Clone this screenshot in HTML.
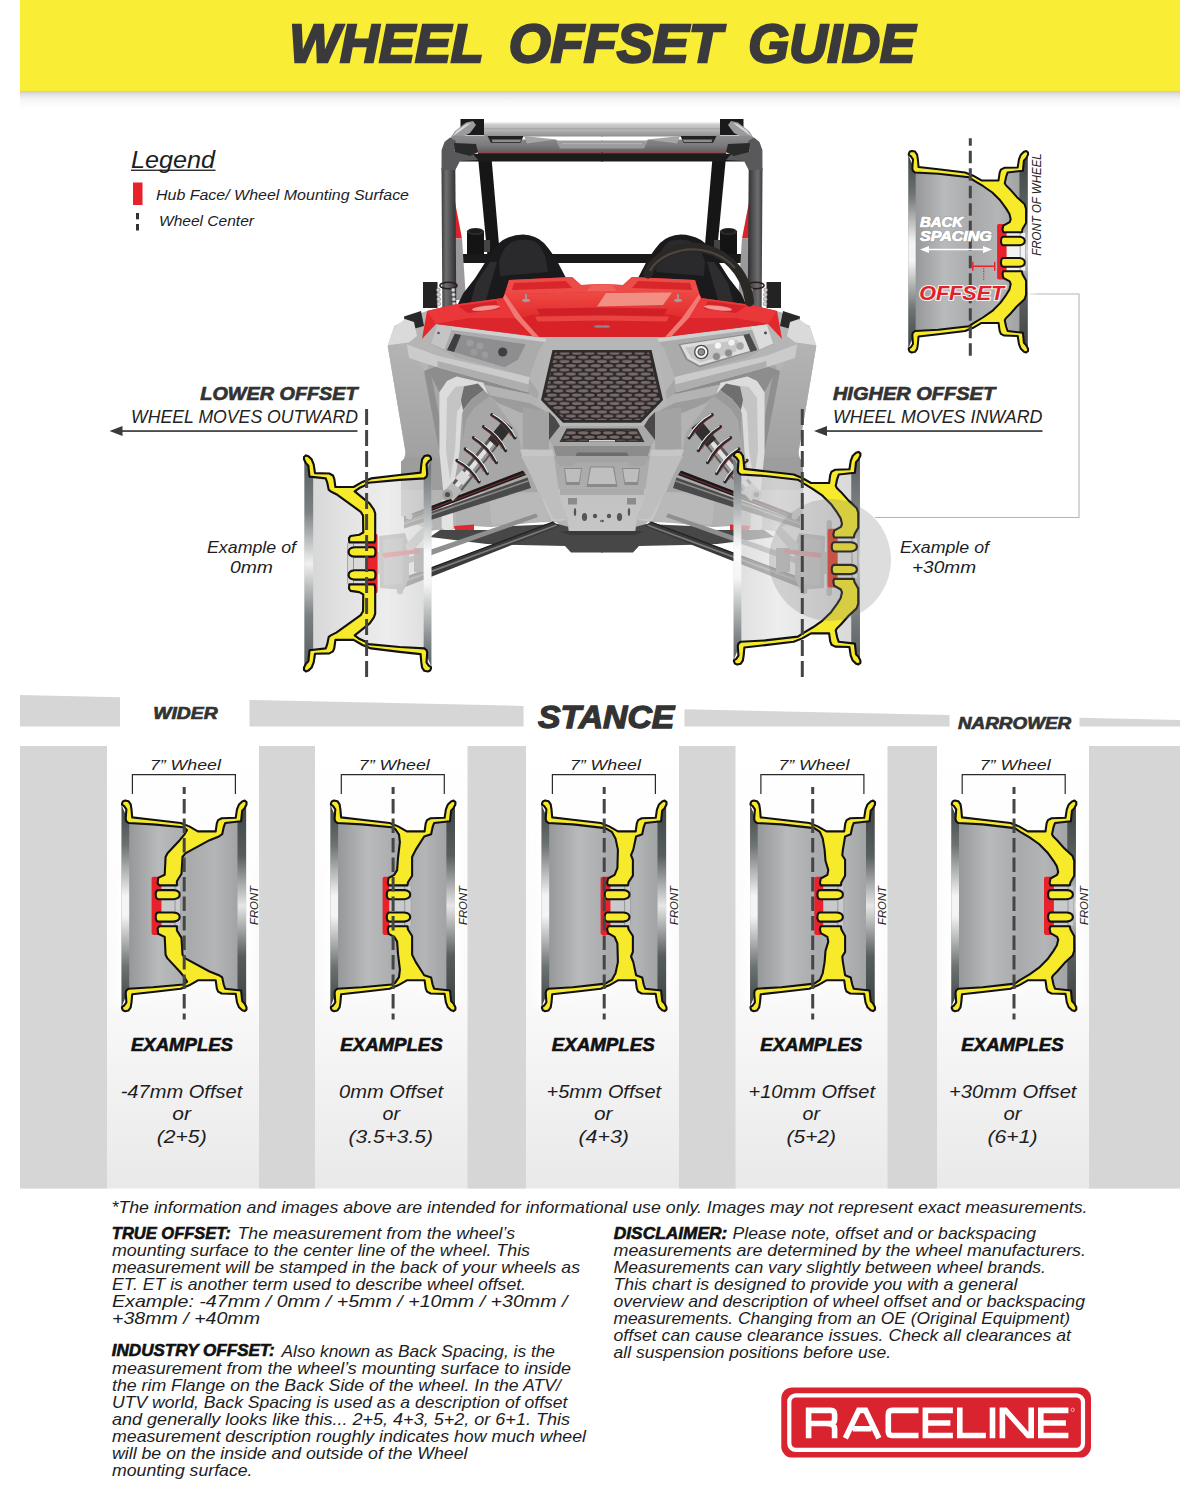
<!DOCTYPE html>
<html><head><meta charset="utf-8"><title>Wheel Offset Guide</title>
<style>
html,body{margin:0;padding:0;background:#fff;}
svg{display:block;font-family:"Liberation Sans",sans-serif;}
</style></head><body>
<svg width="1200" height="1500" viewBox="0 0 1200 1500">
<defs>
<linearGradient id="bshadow" x1="0" y1="0" x2="0" y2="1">
 <stop offset="0" stop-color="#000" stop-opacity="0.21"/>
 <stop offset="0.22" stop-color="#000" stop-opacity="0.10"/>
 <stop offset="0.5" stop-color="#000" stop-opacity="0.035"/>
 <stop offset="1" stop-color="#000" stop-opacity="0"/>
</linearGradient>
<linearGradient id="panel" x1="0" y1="0" x2="0" y2="1">
 <stop offset="0" stop-color="#ffffff"/>
 <stop offset="0.55" stop-color="#fafafa"/>
 <stop offset="1" stop-color="#e9e9e9"/>
</linearGradient>

<linearGradient id="barrel" x1="0" y1="0" x2="1" y2="0">
 <stop offset="0" stop-color="#8d8f91"/><stop offset="0.07" stop-color="#97999b"/>
 <stop offset="0.30" stop-color="#b9babc"/><stop offset="0.55" stop-color="#a9aaac"/>
 <stop offset="0.75" stop-color="#b4b5b7"/><stop offset="0.93" stop-color="#a2a3a5"/>
 <stop offset="1" stop-color="#8a8c8e"/>
</linearGradient>
<linearGradient id="lipL" x1="0" y1="0" x2="0" y2="1">
 <stop offset="0" stop-color="#3f4445"/><stop offset="0.2" stop-color="#6d7273"/>
 <stop offset="0.45" stop-color="#f4f4f4"/><stop offset="0.55" stop-color="#f4f4f4"/>
 <stop offset="0.8" stop-color="#6d7273"/><stop offset="1" stop-color="#3f4445"/>
</linearGradient>
<linearGradient id="lipR" x1="0" y1="0" x2="0" y2="1">
 <stop offset="0" stop-color="#3f4445"/><stop offset="0.25" stop-color="#585d5e"/>
 <stop offset="0.5" stop-color="#e6e6e6"/>
 <stop offset="0.75" stop-color="#585d5e"/><stop offset="1" stop-color="#3f4445"/>
</linearGradient>
<linearGradient id="lipfade" x1="0" y1="0" x2="1" y2="0">
 <stop offset="0" stop-color="#fff" stop-opacity="1"/><stop offset="1" stop-color="#fff" stop-opacity="0"/>
</linearGradient>
<filter id="glow" x="-30%" y="-20%" width="160%" height="140%"><feGaussianBlur stdDeviation="5"/></filter>
<filter id="soft" x="-10%" y="-10%" width="120%" height="120%"><feGaussianBlur stdDeviation="0.6"/></filter>

<linearGradient id="barrelT" x1="0" y1="0" x2="1" y2="0">
 <stop offset="0" stop-color="#cfcfd0"/><stop offset="0.35" stop-color="#e6e6e6"/>
 <stop offset="0.7" stop-color="#d6d6d7"/><stop offset="1" stop-color="#c4c4c5"/>
</linearGradient>

<linearGradient id="lipLT" x1="0" y1="0" x2="0" y2="1">
 <stop offset="0" stop-color="#6a7071"/><stop offset="0.2" stop-color="#9aa0a1"/>
 <stop offset="0.45" stop-color="#fbfbfb"/><stop offset="0.6" stop-color="#f4f4f4"/>
 <stop offset="0.85" stop-color="#8d9394"/><stop offset="1" stop-color="#5a6061"/>
</linearGradient>
<linearGradient id="lipRT" x1="0" y1="0" x2="0" y2="1">
 <stop offset="0" stop-color="#5a6061"/><stop offset="0.25" stop-color="#7b8182"/>
 <stop offset="0.5" stop-color="#f0f0f0"/>
 <stop offset="0.75" stop-color="#7b8182"/><stop offset="1" stop-color="#5a6061"/>
</linearGradient>

<linearGradient id="pillar" x1="0" y1="0" x2="1" y2="0">
 <stop offset="0" stop-color="#3c3c3e"/><stop offset="0.3" stop-color="#6e6e70"/>
 <stop offset="0.55" stop-color="#58585a"/><stop offset="1" stop-color="#2e2e30"/>
</linearGradient>
<linearGradient id="roof" x1="0" y1="0" x2="0" y2="1">
 <stop offset="0" stop-color="#f2f2f2"/><stop offset="0.25" stop-color="#c9c9c9"/>
 <stop offset="0.6" stop-color="#b2b2b2"/><stop offset="1" stop-color="#8e8e8e"/>
</linearGradient>
<linearGradient id="header" x1="0" y1="0" x2="0" y2="1">
 <stop offset="0" stop-color="#8e8e90"/><stop offset="0.6" stop-color="#7a7a7c"/><stop offset="1" stop-color="#5e5e60"/>
</linearGradient>
<linearGradient id="fender" x1="0" y1="0" x2="0" y2="1">
 <stop offset="0" stop-color="#b4b4b5"/><stop offset="1" stop-color="#9b9b9c"/>
</linearGradient>
<linearGradient id="hoodtop" x1="0" y1="0" x2="0" y2="1">
 <stop offset="0" stop-color="#ee4a45"/><stop offset="1" stop-color="#e22a2c"/>
</linearGradient>
<linearGradient id="skid" x1="0" y1="0" x2="0" y2="1">
 <stop offset="0" stop-color="#a9a9aa"/><stop offset="0.42" stop-color="#adadae"/><stop offset="0.45" stop-color="#c2c2c3"/><stop offset="1" stop-color="#c6c6c7"/>
</linearGradient>
<pattern id="mesh" width="12.5" height="8.4" patternUnits="userSpaceOnUse" x="548.9" y="351">
 <rect width="12.5" height="8.4" fill="#2b2727"/>
 <ellipse cx="3.1" cy="2.1" rx="5.2" ry="1.55" fill="#786b6b"/>
 <ellipse cx="9.35" cy="6.3" rx="5.2" ry="1.55" fill="#786b6b"/>
 <ellipse cx="15.6" cy="2.1" rx="5.2" ry="1.55" fill="#786b6b"/>
 <ellipse cx="-3.15" cy="6.3" rx="5.2" ry="1.55" fill="#786b6b"/>
</pattern>
<g id="wt_p0">
<polygon points="0.2,60.1 5.6,75.6 31.4,76.9 60.3,80.3 72.4,86.3 94.8,88.9 99.0,76.5 119.1,74.7 124.7,60.5 124.7,261.2 119.1,247.0 99.0,245.1 94.8,232.8 72.4,235.4 60.3,241.4 31.4,244.8 5.6,246.1 0.2,261.6" fill="url(#barrelT)" opacity="0.72"/>
<g>
<polygon points="0.2,60.1 7.8,78.0 7.8,243.7 0.2,261.6" fill="url(#lipLT)"/>
<polygon points="124.7,60.5 116.1,75.6 116.1,246.1 124.7,261.2" fill="url(#lipRT)"/>
</g>
<rect x="53.0" y="131.8" width="9.7" height="58.1" rx="1.8" fill="#e8212b"/>
<rect x="62.4" y="141.2" width="20.2" height="39.4" fill="#d9d9da"/>
<rect x="76.1" y="141.2" width="0.9" height="39.4" fill="#8e9092"/>
<rect x="81.9" y="141.2" width="0.9" height="39.4" fill="#9fa1a3"/>
<polygon points="0.6,58.6 1.5,56.4 3.7,55.5 7.1,56.2 9.3,59.4 10.1,64.4 10.8,72.4 31.4,74.7 59.4,78.0 67.8,81.4 76.5,86.4 94.3,86.4 95.4,78.4 96.7,75.1 100.3,73.2 114.3,72.8 115.6,64.4 117.6,59.4 120.8,56.4 123.2,55.6 125.1,57.1 125.1,59.4 123.2,63.1 120.8,65.7 119.7,76.2 103.8,78.0 102.3,82.2 100.8,89.2 98.8,90.7 93.4,93.4 69.5,110.5 67.2,114.3 67.0,130.7 70.9,132.9 79.4,134.1 81.0,136.3 80.7,140.4 56.0,140.4 55.3,137.2 55.3,112.0 56.6,108.3 60.7,102.5 75.4,90.7 70.9,87.4 65.7,85.0 62.0,82.2 31.4,79.4 7.1,78.0 4.9,76.2 4.3,73.7 5.0,64.4 2.8,61.2 0.6,59.7" fill="#f7ea2a" stroke="#111" stroke-width="2.1" stroke-linejoin="round"/>
<polygon points="0.6,263.1 1.5,265.3 3.7,266.2 7.1,265.5 9.3,262.3 10.1,257.3 10.8,249.3 31.4,247.0 59.4,243.7 67.8,240.3 76.5,235.3 94.3,235.3 95.4,243.3 96.7,246.6 100.3,248.5 114.3,248.9 115.6,257.3 117.6,262.3 120.8,265.3 123.2,266.1 125.1,264.6 125.1,262.3 123.2,258.6 120.8,256.0 119.7,245.5 103.8,243.7 102.3,239.5 100.8,232.4 98.8,231.0 93.4,228.3 69.5,211.2 67.2,207.4 67.0,191.0 70.9,188.8 79.4,187.6 81.0,185.4 80.7,181.3 56.0,181.3 55.3,184.5 55.3,209.7 56.6,213.4 60.7,219.2 75.4,231.0 70.9,234.3 65.7,236.7 62.0,239.5 31.4,242.3 7.1,243.7 4.9,245.5 4.3,247.9 5.0,257.3 2.8,260.5 0.6,261.9" fill="#f7ea2a" stroke="#111" stroke-width="2.1" stroke-linejoin="round"/>
<path d="M57.8,145.1 L75.4,145.1 Q81.4,145.6 81.4,149.6 Q81.4,153.7 75.4,154.2 L57.8,154.2 Q55.0,154.2 55.0,149.6 Q55.0,145.1 57.8,145.1 Z" fill="#f7ea2a" stroke="#111" stroke-width="2.1" stroke-linejoin="round"/>
<path d="M57.8,167.5 L75.4,167.5 Q81.4,168.0 81.4,172.1 Q81.4,176.1 75.4,176.6 L57.8,176.6 Q55.0,176.6 55.0,172.1 Q55.0,167.5 57.8,167.5 Z" fill="#f7ea2a" stroke="#111" stroke-width="2.1" stroke-linejoin="round"/>
</g><g id="wt_p30">
<polygon points="0.2,60.1 5.6,75.6 31.4,76.9 60.3,80.3 72.4,86.3 94.8,88.9 99.0,76.5 119.1,74.7 124.7,60.5 124.7,261.2 119.1,247.0 99.0,245.1 94.8,232.8 72.4,235.4 60.3,241.4 31.4,244.8 5.6,246.1 0.2,261.6" fill="url(#barrelT)" opacity="0.7"/>
<g>
<polygon points="0.2,60.1 7.8,78.0 7.8,243.7 0.2,261.6" fill="url(#lipLT)"/>
<polygon points="124.7,60.5 116.1,75.6 116.1,246.1 124.7,261.2" fill="url(#lipRT)"/>
</g>
<rect x="92.8" y="131.8" width="10.3" height="58.1" rx="1.8" fill="#e2432f"/>
<rect x="102.7" y="141.2" width="20.2" height="39.4" fill="#e3e3e4"/>
<rect x="116.4" y="141.2" width="0.9" height="39.4" fill="#8e9092"/>
<rect x="122.2" y="141.2" width="0.9" height="39.4" fill="#9fa1a3"/>
<polygon points="0.6,58.6 1.5,56.4 3.7,55.5 7.1,56.2 9.3,59.4 10.1,64.4 10.8,72.4 31.4,74.7 59.4,78.0 67.8,81.4 76.5,86.4 94.3,86.4 95.4,78.4 96.7,75.1 100.3,73.2 114.3,72.8 115.6,64.4 117.6,59.4 120.8,56.4 123.2,55.6 125.1,57.1 125.1,59.4 123.2,63.1 120.8,65.7 119.7,76.2 103.8,78.0 102.3,82.2 100.8,89.2 102.1,91.5 105.9,95.2 113.3,103.6 121.4,111.1 123.0,115.8 123.0,130.7 119.3,137.2 118.6,140.4 99.3,140.4 98.4,137.8 99.3,133.5 105.9,129.8 107.0,127.0 105.7,121.4 102.3,115.8 96.2,107.4 87.8,99.0 78.4,92.4 69.1,86.8 63.5,83.1 31.4,79.4 7.1,78.0 4.9,76.2 4.3,73.7 5.0,64.4 2.8,61.2 0.6,59.7" fill="#f7ea2a" stroke="#111" stroke-width="2.1" stroke-linejoin="round"/>
<polygon points="0.6,263.1 1.5,265.3 3.7,266.2 7.1,265.5 9.3,262.3 10.1,257.3 10.8,249.3 31.4,247.0 59.4,243.7 67.8,240.3 76.5,235.3 94.3,235.3 95.4,243.3 96.7,246.6 100.3,248.5 114.3,248.9 115.6,257.3 117.6,262.3 120.8,265.3 123.2,266.1 125.1,264.6 125.1,262.3 123.2,258.6 120.8,256.0 119.7,245.5 103.8,243.7 102.3,239.5 100.8,232.4 102.1,230.2 105.9,226.5 113.3,218.1 121.4,210.6 123.0,205.9 123.0,191.0 119.3,184.5 118.6,181.3 99.3,181.3 98.4,183.9 99.3,188.2 105.9,191.9 107.0,194.7 105.7,200.3 102.3,205.9 96.2,214.3 87.8,222.7 78.4,229.3 69.1,234.9 63.5,238.6 31.4,242.3 7.1,243.7 4.9,245.5 4.3,247.9 5.0,257.3 2.8,260.5 0.6,261.9" fill="#f7ea2a" stroke="#111" stroke-width="2.1" stroke-linejoin="round"/>
<path d="M99.7,145.1 L115.7,145.1 Q121.7,145.6 121.7,149.6 Q121.7,153.7 115.7,154.2 L99.7,154.2 Q96.9,154.2 96.9,149.6 Q96.9,145.1 99.7,145.1 Z" fill="#f7ea2a" stroke="#111" stroke-width="2.1" stroke-linejoin="round"/>
<path d="M99.7,167.5 L115.7,167.5 Q121.7,168.0 121.7,172.1 Q121.7,176.1 115.7,176.6 L99.7,176.6 Q96.9,176.6 96.9,172.1 Q96.9,167.5 99.7,167.5 Z" fill="#f7ea2a" stroke="#111" stroke-width="2.1" stroke-linejoin="round"/>
</g><g id="wl_p30">
<polygon points="0.2,60.1 5.6,75.6 31.4,76.9 60.3,80.3 72.4,86.3 94.8,88.9 99.0,76.5 119.1,74.7 124.7,60.5 124.7,261.2 119.1,247.0 99.0,245.1 94.8,232.8 72.4,235.4 60.3,241.4 31.4,244.8 5.6,246.1 0.2,261.6" fill="#fff" stroke="#fff" stroke-width="10" filter="url(#glow)" opacity="0.95"/>
<polygon points="0.2,60.1 5.6,75.6 31.4,76.9 60.3,80.3 72.4,86.3 94.8,88.9 99.0,76.5 119.1,74.7 124.7,60.5 124.7,261.2 119.1,247.0 99.0,245.1 94.8,232.8 72.4,235.4 60.3,241.4 31.4,244.8 5.6,246.1 0.2,261.6" fill="url(#barrel)" opacity="1.0"/>
<g>
<polygon points="0.2,60.1 7.8,78.0 7.8,243.7 0.2,261.6" fill="url(#lipL)"/>
<polygon points="124.7,60.5 116.1,75.6 116.1,246.1 124.7,261.2" fill="url(#lipR)"/>
</g>
<rect x="92.8" y="131.8" width="10.3" height="58.1" rx="1.8" fill="#e8212b"/>
<rect x="102.7" y="141.2" width="20.2" height="39.4" fill="#f2f2f2"/>
<rect x="116.4" y="141.2" width="0.9" height="39.4" fill="#8e9092"/>
<rect x="122.2" y="141.2" width="0.9" height="39.4" fill="#9fa1a3"/>
<polygon points="0.6,58.6 1.5,56.4 3.7,55.5 7.1,56.2 9.3,59.4 10.1,64.4 10.8,72.4 31.4,74.7 59.4,78.0 67.8,81.4 76.5,86.4 94.3,86.4 95.4,78.4 96.7,75.1 100.3,73.2 114.3,72.8 115.6,64.4 117.6,59.4 120.8,56.4 123.2,55.6 125.1,57.1 125.1,59.4 123.2,63.1 120.8,65.7 119.7,76.2 103.8,78.0 102.3,82.2 100.8,89.2 102.1,91.5 105.9,95.2 113.3,103.6 121.4,111.1 123.0,115.8 123.0,130.7 119.3,137.2 118.6,140.4 99.3,140.4 98.4,137.8 99.3,133.5 105.9,129.8 107.0,127.0 105.7,121.4 102.3,115.8 96.2,107.4 87.8,99.0 78.4,92.4 69.1,86.8 63.5,83.1 31.4,79.4 7.1,78.0 4.9,76.2 4.3,73.7 5.0,64.4 2.8,61.2 0.6,59.7" fill="#f7ea2a" stroke="#111" stroke-width="2.1" stroke-linejoin="round"/>
<polygon points="0.6,263.1 1.5,265.3 3.7,266.2 7.1,265.5 9.3,262.3 10.1,257.3 10.8,249.3 31.4,247.0 59.4,243.7 67.8,240.3 76.5,235.3 94.3,235.3 95.4,243.3 96.7,246.6 100.3,248.5 114.3,248.9 115.6,257.3 117.6,262.3 120.8,265.3 123.2,266.1 125.1,264.6 125.1,262.3 123.2,258.6 120.8,256.0 119.7,245.5 103.8,243.7 102.3,239.5 100.8,232.4 102.1,230.2 105.9,226.5 113.3,218.1 121.4,210.6 123.0,205.9 123.0,191.0 119.3,184.5 118.6,181.3 99.3,181.3 98.4,183.9 99.3,188.2 105.9,191.9 107.0,194.7 105.7,200.3 102.3,205.9 96.2,214.3 87.8,222.7 78.4,229.3 69.1,234.9 63.5,238.6 31.4,242.3 7.1,243.7 4.9,245.5 4.3,247.9 5.0,257.3 2.8,260.5 0.6,261.9" fill="#f7ea2a" stroke="#111" stroke-width="2.1" stroke-linejoin="round"/>
<path d="M99.7,145.1 L115.7,145.1 Q121.7,145.6 121.7,149.6 Q121.7,153.7 115.7,154.2 L99.7,154.2 Q96.9,154.2 96.9,149.6 Q96.9,145.1 99.7,145.1 Z" fill="#f7ea2a" stroke="#111" stroke-width="2.1" stroke-linejoin="round"/>
<path d="M99.7,167.5 L115.7,167.5 Q121.7,168.0 121.7,172.1 Q121.7,176.1 115.7,176.6 L99.7,176.6 Q96.9,176.6 96.9,172.1 Q96.9,167.5 99.7,167.5 Z" fill="#f7ea2a" stroke="#111" stroke-width="2.1" stroke-linejoin="round"/>
</g><g id="w_m47">
<polygon points="0.2,60.1 5.6,75.6 31.4,76.9 60.3,80.3 72.4,86.3 94.8,88.9 99.0,76.5 119.1,74.7 124.7,60.5 124.7,261.2 119.1,247.0 99.0,245.1 94.8,232.8 72.4,235.4 60.3,241.4 31.4,244.8 5.6,246.1 0.2,261.6" fill="#fff" stroke="#fff" stroke-width="10" filter="url(#glow)" opacity="0.95"/>
<polygon points="0.2,60.1 5.6,75.6 31.4,76.9 60.3,80.3 72.4,86.3 94.8,88.9 99.0,76.5 119.1,74.7 124.7,60.5 124.7,261.2 119.1,247.0 99.0,245.1 94.8,232.8 72.4,235.4 60.3,241.4 31.4,244.8 5.6,246.1 0.2,261.6" fill="url(#barrel)" opacity="1.0"/>
<g>
<polygon points="0.2,60.1 7.8,78.0 7.8,243.7 0.2,261.6" fill="url(#lipL)"/>
<polygon points="124.7,60.5 116.1,75.6 116.1,246.1 124.7,261.2" fill="url(#lipR)"/>
</g>
<rect x="30.2" y="131.8" width="10.3" height="58.1" rx="1.8" fill="#e8212b"/>
<rect x="40.1" y="141.2" width="19.2" height="39.4" fill="#c9cacc"/>
<rect x="53.2" y="141.2" width="0.9" height="39.4" fill="#8e9092"/>
<rect x="58.8" y="141.2" width="0.9" height="39.4" fill="#9fa1a3"/>
<polygon points="0.6,58.6 1.5,56.4 3.7,55.5 7.1,56.2 9.3,59.4 10.1,64.4 10.8,72.4 31.4,74.7 59.4,78.0 67.8,81.4 76.5,86.4 94.3,86.4 95.4,78.4 96.7,75.1 100.3,73.2 114.3,72.8 115.6,64.4 117.6,59.4 120.8,56.4 123.2,55.6 125.1,57.1 125.1,59.4 123.2,63.1 120.8,65.7 119.7,76.2 103.8,78.0 102.3,82.2 100.8,89.2 97.5,91.5 88.1,95.2 63.9,108.3 61.1,112.0 60.1,128.8 55.5,136.3 55.5,140.4 37.7,140.4 36.2,138.2 36.8,132.9 43.3,129.8 44.2,112.0 46.1,108.3 58.3,95.2 62.9,89.6 65.7,85.0 62.0,82.2 31.4,79.4 7.1,78.0 4.9,76.2 4.3,73.7 5.0,64.4 2.8,61.2 0.6,59.7" fill="#f7ea2a" stroke="#111" stroke-width="2.1" stroke-linejoin="round"/>
<polygon points="0.6,263.1 1.5,265.3 3.7,266.2 7.1,265.5 9.3,262.3 10.1,257.3 10.8,249.3 31.4,247.0 59.4,243.7 67.8,240.3 76.5,235.3 94.3,235.3 95.4,243.3 96.7,246.6 100.3,248.5 114.3,248.9 115.6,257.3 117.6,262.3 120.8,265.3 123.2,266.1 125.1,264.6 125.1,262.3 123.2,258.6 120.8,256.0 119.7,245.5 103.8,243.7 102.3,239.5 100.8,232.4 97.5,230.2 88.1,226.5 63.9,213.4 61.1,209.7 60.1,192.9 55.5,185.4 55.5,181.3 37.7,181.3 36.2,183.5 36.8,188.8 43.3,191.9 44.2,209.7 46.1,213.4 58.3,226.5 62.9,232.1 65.7,236.7 62.0,239.5 31.4,242.3 7.1,243.7 4.9,245.5 4.3,247.9 5.0,257.3 2.8,260.5 0.6,261.9" fill="#f7ea2a" stroke="#111" stroke-width="2.1" stroke-linejoin="round"/>
<path d="M37.1,145.1 L52.3,145.1 Q58.3,145.6 58.3,149.6 Q58.3,153.7 52.3,154.2 L37.1,154.2 Q34.3,154.2 34.3,149.6 Q34.3,145.1 37.1,145.1 Z" fill="#f7ea2a" stroke="#111" stroke-width="2.1" stroke-linejoin="round"/>
<path d="M37.1,167.5 L52.3,167.5 Q58.3,168.0 58.3,172.1 Q58.3,176.1 52.3,176.6 L37.1,176.6 Q34.3,176.6 34.3,172.1 Q34.3,167.5 37.1,167.5 Z" fill="#f7ea2a" stroke="#111" stroke-width="2.1" stroke-linejoin="round"/>
</g><g id="w_p0">
<polygon points="0.2,60.1 5.6,75.6 31.4,76.9 60.3,80.3 72.4,86.3 94.8,88.9 99.0,76.5 119.1,74.7 124.7,60.5 124.7,261.2 119.1,247.0 99.0,245.1 94.8,232.8 72.4,235.4 60.3,241.4 31.4,244.8 5.6,246.1 0.2,261.6" fill="#fff" stroke="#fff" stroke-width="10" filter="url(#glow)" opacity="0.95"/>
<polygon points="0.2,60.1 5.6,75.6 31.4,76.9 60.3,80.3 72.4,86.3 94.8,88.9 99.0,76.5 119.1,74.7 124.7,60.5 124.7,261.2 119.1,247.0 99.0,245.1 94.8,232.8 72.4,235.4 60.3,241.4 31.4,244.8 5.6,246.1 0.2,261.6" fill="url(#barrel)" opacity="1.0"/>
<g>
<polygon points="0.2,60.1 7.8,78.0 7.8,243.7 0.2,261.6" fill="url(#lipL)"/>
<polygon points="124.7,60.5 116.1,75.6 116.1,246.1 124.7,261.2" fill="url(#lipR)"/>
</g>
<rect x="52.3" y="131.8" width="7.1" height="58.1" rx="1.8" fill="#e8212b"/>
<rect x="59.0" y="141.2" width="22.0" height="39.4" fill="#c9cacc"/>
<rect x="74.0" y="141.2" width="0.9" height="39.4" fill="#8e9092"/>
<rect x="80.4" y="141.2" width="0.9" height="39.4" fill="#9fa1a3"/>
<polygon points="0.6,58.6 1.5,56.4 3.7,55.5 7.1,56.2 9.3,59.4 10.1,64.4 10.8,72.4 31.4,74.7 59.4,78.0 67.8,81.4 76.5,86.4 94.3,86.4 95.4,78.4 96.7,75.1 100.3,73.2 114.3,72.8 115.6,64.4 117.6,59.4 120.8,56.4 123.2,55.6 125.1,57.1 125.1,59.4 123.2,63.1 120.8,65.7 119.7,76.2 103.8,78.0 102.3,82.2 100.8,89.2 93.9,91.5 85.5,104.6 81.8,112.0 81.8,130.7 77.7,137.2 77.1,140.4 58.4,140.4 57.5,137.2 58.4,132.9 64.0,129.8 66.8,125.1 67.8,112.0 69.6,97.1 68.7,89.6 65.0,84.0 61.2,82.2 31.4,79.4 7.1,78.0 4.9,76.2 4.3,73.7 5.0,64.4 2.8,61.2 0.6,59.7" fill="#f7ea2a" stroke="#111" stroke-width="2.1" stroke-linejoin="round"/>
<polygon points="0.6,263.1 1.5,265.3 3.7,266.2 7.1,265.5 9.3,262.3 10.1,257.3 10.8,249.3 31.4,247.0 59.4,243.7 67.8,240.3 76.5,235.3 94.3,235.3 95.4,243.3 96.7,246.6 100.3,248.5 114.3,248.9 115.6,257.3 117.6,262.3 120.8,265.3 123.2,266.1 125.1,264.6 125.1,262.3 123.2,258.6 120.8,256.0 119.7,245.5 103.8,243.7 102.3,239.5 100.8,232.4 93.9,230.2 85.5,217.1 81.8,209.7 81.8,191.0 77.7,184.5 77.1,181.3 58.4,181.3 57.5,184.5 58.4,188.8 64.0,191.9 66.8,196.6 67.8,209.7 69.6,224.6 68.7,232.1 65.0,237.7 61.2,239.5 31.4,242.3 7.1,243.7 4.9,245.5 4.3,247.9 5.0,257.3 2.8,260.5 0.6,261.9" fill="#f7ea2a" stroke="#111" stroke-width="2.1" stroke-linejoin="round"/>
<path d="M59.3,145.1 L73.9,145.1 Q79.9,145.6 79.9,149.6 Q79.9,153.7 73.9,154.2 L59.3,154.2 Q56.5,154.2 56.5,149.6 Q56.5,145.1 59.3,145.1 Z" fill="#f7ea2a" stroke="#111" stroke-width="2.1" stroke-linejoin="round"/>
<path d="M59.3,167.5 L73.9,167.5 Q79.9,168.0 79.9,172.1 Q79.9,176.1 73.9,176.6 L59.3,176.6 Q56.5,176.6 56.5,172.1 Q56.5,167.5 59.3,167.5 Z" fill="#f7ea2a" stroke="#111" stroke-width="2.1" stroke-linejoin="round"/>
</g><g id="w_p5">
<polygon points="0.2,60.1 5.6,75.6 31.4,76.9 60.3,80.3 72.4,86.3 94.8,88.9 99.0,76.5 119.1,74.7 124.7,60.5 124.7,261.2 119.1,247.0 99.0,245.1 94.8,232.8 72.4,235.4 60.3,241.4 31.4,244.8 5.6,246.1 0.2,261.6" fill="#fff" stroke="#fff" stroke-width="10" filter="url(#glow)" opacity="0.95"/>
<polygon points="0.2,60.1 5.6,75.6 31.4,76.9 60.3,80.3 72.4,86.3 94.8,88.9 99.0,76.5 119.1,74.7 124.7,60.5 124.7,261.2 119.1,247.0 99.0,245.1 94.8,232.8 72.4,235.4 60.3,241.4 31.4,244.8 5.6,246.1 0.2,261.6" fill="url(#barrel)" opacity="1.0"/>
<g>
<polygon points="0.2,60.1 7.8,78.0 7.8,243.7 0.2,261.6" fill="url(#lipL)"/>
<polygon points="124.7,60.5 116.1,75.6 116.1,246.1 124.7,261.2" fill="url(#lipR)"/>
</g>
<rect x="59.2" y="131.8" width="10.3" height="58.1" rx="1.8" fill="#e8212b"/>
<rect x="69.1" y="141.2" width="20.2" height="39.4" fill="#c9cacc"/>
<rect x="82.8" y="141.2" width="0.9" height="39.4" fill="#8e9092"/>
<rect x="88.6" y="141.2" width="0.9" height="39.4" fill="#9fa1a3"/>
<polygon points="0.6,58.6 1.5,56.4 3.7,55.5 7.1,56.2 9.3,59.4 10.1,64.4 10.8,72.4 31.4,74.7 59.4,78.0 67.8,81.4 76.5,86.4 94.3,86.4 95.4,78.4 96.7,75.1 100.3,73.2 114.3,72.8 115.6,64.4 117.6,59.4 120.8,56.4 123.2,55.6 125.1,57.1 125.1,59.4 123.2,63.1 120.8,65.7 119.7,76.2 103.8,78.0 102.3,82.2 100.8,89.2 94.7,91.5 91.9,104.6 89.6,110.2 91.5,114.8 91.5,130.7 87.2,137.2 86.6,140.4 66.7,140.4 65.7,137.8 66.7,133.5 73.2,129.8 76.0,123.2 76.5,104.6 74.1,93.4 70.4,86.8 63.9,83.1 31.4,79.4 7.1,78.0 4.9,76.2 4.3,73.7 5.0,64.4 2.8,61.2 0.6,59.7" fill="#f7ea2a" stroke="#111" stroke-width="2.1" stroke-linejoin="round"/>
<polygon points="0.6,263.1 1.5,265.3 3.7,266.2 7.1,265.5 9.3,262.3 10.1,257.3 10.8,249.3 31.4,247.0 59.4,243.7 67.8,240.3 76.5,235.3 94.3,235.3 95.4,243.3 96.7,246.6 100.3,248.5 114.3,248.9 115.6,257.3 117.6,262.3 120.8,265.3 123.2,266.1 125.1,264.6 125.1,262.3 123.2,258.6 120.8,256.0 119.7,245.5 103.8,243.7 102.3,239.5 100.8,232.4 94.7,230.2 91.9,217.1 89.6,211.5 91.5,206.9 91.5,191.0 87.2,184.5 86.6,181.3 66.7,181.3 65.7,183.9 66.7,188.2 73.2,191.9 76.0,198.5 76.5,217.1 74.1,228.3 70.4,234.9 63.9,238.6 31.4,242.3 7.1,243.7 4.9,245.5 4.3,247.9 5.0,257.3 2.8,260.5 0.6,261.9" fill="#f7ea2a" stroke="#111" stroke-width="2.1" stroke-linejoin="round"/>
<path d="M66.1,145.1 L82.1,145.1 Q88.1,145.6 88.1,149.6 Q88.1,153.7 82.1,154.2 L66.1,154.2 Q63.3,154.2 63.3,149.6 Q63.3,145.1 66.1,145.1 Z" fill="#f7ea2a" stroke="#111" stroke-width="2.1" stroke-linejoin="round"/>
<path d="M66.1,167.5 L82.1,167.5 Q88.1,168.0 88.1,172.1 Q88.1,176.1 82.1,176.6 L66.1,176.6 Q63.3,176.6 63.3,172.1 Q63.3,167.5 66.1,167.5 Z" fill="#f7ea2a" stroke="#111" stroke-width="2.1" stroke-linejoin="round"/>
</g><g id="w_p10">
<polygon points="0.2,60.1 5.6,75.6 31.4,76.9 60.3,80.3 72.4,86.3 94.8,88.9 99.0,76.5 119.1,74.7 124.7,60.5 124.7,261.2 119.1,247.0 99.0,245.1 94.8,232.8 72.4,235.4 60.3,241.4 31.4,244.8 5.6,246.1 0.2,261.6" fill="#fff" stroke="#fff" stroke-width="10" filter="url(#glow)" opacity="0.95"/>
<polygon points="0.2,60.1 5.6,75.6 31.4,76.9 60.3,80.3 72.4,86.3 94.8,88.9 99.0,76.5 119.1,74.7 124.7,60.5 124.7,261.2 119.1,247.0 99.0,245.1 94.8,232.8 72.4,235.4 60.3,241.4 31.4,244.8 5.6,246.1 0.2,261.6" fill="url(#barrel)" opacity="1.0"/>
<g>
<polygon points="0.2,60.1 7.8,78.0 7.8,243.7 0.2,261.6" fill="url(#lipL)"/>
<polygon points="124.7,60.5 116.1,75.6 116.1,246.1 124.7,261.2" fill="url(#lipR)"/>
</g>
<rect x="64.4" y="131.8" width="9.3" height="58.1" rx="1.8" fill="#e8212b"/>
<rect x="73.4" y="141.2" width="20.7" height="39.4" fill="#c9cacc"/>
<rect x="87.5" y="141.2" width="0.9" height="39.4" fill="#8e9092"/>
<rect x="93.5" y="141.2" width="0.9" height="39.4" fill="#9fa1a3"/>
<polygon points="0.6,58.6 1.5,56.4 3.7,55.5 7.1,56.2 9.3,59.4 10.1,64.4 10.8,72.4 31.4,74.7 59.4,78.0 67.8,81.4 76.5,86.4 94.3,86.4 95.4,78.4 96.7,75.1 100.3,73.2 114.3,72.8 115.6,64.4 117.6,59.4 120.8,56.4 123.2,55.6 125.1,57.1 125.1,59.4 123.2,63.1 120.8,65.7 119.7,76.2 103.8,78.0 102.3,82.2 100.8,89.2 95.2,91.5 93.0,104.6 92.4,110.2 95.2,114.8 95.2,130.7 91.5,137.2 90.9,140.4 70.9,140.4 70.0,137.8 70.9,133.5 77.5,129.8 78.4,125.1 75.6,115.8 74.7,104.6 72.8,93.4 70.0,86.8 64.4,83.1 31.4,79.4 7.1,78.0 4.9,76.2 4.3,73.7 5.0,64.4 2.8,61.2 0.6,59.7" fill="#f7ea2a" stroke="#111" stroke-width="2.1" stroke-linejoin="round"/>
<polygon points="0.6,263.1 1.5,265.3 3.7,266.2 7.1,265.5 9.3,262.3 10.1,257.3 10.8,249.3 31.4,247.0 59.4,243.7 67.8,240.3 76.5,235.3 94.3,235.3 95.4,243.3 96.7,246.6 100.3,248.5 114.3,248.9 115.6,257.3 117.6,262.3 120.8,265.3 123.2,266.1 125.1,264.6 125.1,262.3 123.2,258.6 120.8,256.0 119.7,245.5 103.8,243.7 102.3,239.5 100.8,232.4 95.2,230.2 93.0,217.1 92.4,211.5 95.2,206.9 95.2,191.0 91.5,184.5 90.9,181.3 70.9,181.3 70.0,183.9 70.9,188.2 77.5,191.9 78.4,196.6 75.6,205.9 74.7,217.1 72.8,228.3 70.0,234.9 64.4,238.6 31.4,242.3 7.1,243.7 4.9,245.5 4.3,247.9 5.0,257.3 2.8,260.5 0.6,261.9" fill="#f7ea2a" stroke="#111" stroke-width="2.1" stroke-linejoin="round"/>
<path d="M70.3,145.1 L87.0,145.1 Q93.0,145.6 93.0,149.6 Q93.0,153.7 87.0,154.2 L70.3,154.2 Q67.5,154.2 67.5,149.6 Q67.5,145.1 70.3,145.1 Z" fill="#f7ea2a" stroke="#111" stroke-width="2.1" stroke-linejoin="round"/>
<path d="M70.3,167.5 L87.0,167.5 Q93.0,168.0 93.0,172.1 Q93.0,176.1 87.0,176.6 L70.3,176.6 Q67.5,176.6 67.5,172.1 Q67.5,167.5 70.3,167.5 Z" fill="#f7ea2a" stroke="#111" stroke-width="2.1" stroke-linejoin="round"/>
</g><g id="w_p30">
<polygon points="0.2,60.1 5.6,75.6 31.4,76.9 60.3,80.3 72.4,86.3 94.8,88.9 99.0,76.5 119.1,74.7 124.7,60.5 124.7,261.2 119.1,247.0 99.0,245.1 94.8,232.8 72.4,235.4 60.3,241.4 31.4,244.8 5.6,246.1 0.2,261.6" fill="#fff" stroke="#fff" stroke-width="10" filter="url(#glow)" opacity="0.95"/>
<polygon points="0.2,60.1 5.6,75.6 31.4,76.9 60.3,80.3 72.4,86.3 94.8,88.9 99.0,76.5 119.1,74.7 124.7,60.5 124.7,261.2 119.1,247.0 99.0,245.1 94.8,232.8 72.4,235.4 60.3,241.4 31.4,244.8 5.6,246.1 0.2,261.6" fill="url(#barrel)" opacity="1.0"/>
<g>
<polygon points="0.2,60.1 7.8,78.0 7.8,243.7 0.2,261.6" fill="url(#lipL)"/>
<polygon points="124.7,60.5 116.1,75.6 116.1,246.1 124.7,261.2" fill="url(#lipR)"/>
</g>
<rect x="92.8" y="131.8" width="10.3" height="58.1" rx="1.8" fill="#e8212b"/>
<rect x="102.7" y="141.2" width="20.2" height="39.4" fill="#c9cacc"/>
<rect x="116.4" y="141.2" width="0.9" height="39.4" fill="#8e9092"/>
<rect x="122.2" y="141.2" width="0.9" height="39.4" fill="#9fa1a3"/>
<polygon points="0.6,58.6 1.5,56.4 3.7,55.5 7.1,56.2 9.3,59.4 10.1,64.4 10.8,72.4 31.4,74.7 59.4,78.0 67.8,81.4 76.5,86.4 94.3,86.4 95.4,78.4 96.7,75.1 100.3,73.2 114.3,72.8 115.6,64.4 117.6,59.4 120.8,56.4 123.2,55.6 125.1,57.1 125.1,59.4 123.2,63.1 120.8,65.7 119.7,76.2 103.8,78.0 102.3,82.2 100.8,89.2 102.1,91.5 105.9,95.2 113.3,103.6 121.4,111.1 123.0,115.8 123.0,130.7 119.3,137.2 118.6,140.4 99.3,140.4 98.4,137.8 99.3,133.5 105.9,129.8 107.0,127.0 105.7,121.4 102.3,115.8 96.2,107.4 87.8,99.0 78.4,92.4 69.1,86.8 63.5,83.1 31.4,79.4 7.1,78.0 4.9,76.2 4.3,73.7 5.0,64.4 2.8,61.2 0.6,59.7" fill="#f7ea2a" stroke="#111" stroke-width="2.1" stroke-linejoin="round"/>
<polygon points="0.6,263.1 1.5,265.3 3.7,266.2 7.1,265.5 9.3,262.3 10.1,257.3 10.8,249.3 31.4,247.0 59.4,243.7 67.8,240.3 76.5,235.3 94.3,235.3 95.4,243.3 96.7,246.6 100.3,248.5 114.3,248.9 115.6,257.3 117.6,262.3 120.8,265.3 123.2,266.1 125.1,264.6 125.1,262.3 123.2,258.6 120.8,256.0 119.7,245.5 103.8,243.7 102.3,239.5 100.8,232.4 102.1,230.2 105.9,226.5 113.3,218.1 121.4,210.6 123.0,205.9 123.0,191.0 119.3,184.5 118.6,181.3 99.3,181.3 98.4,183.9 99.3,188.2 105.9,191.9 107.0,194.7 105.7,200.3 102.3,205.9 96.2,214.3 87.8,222.7 78.4,229.3 69.1,234.9 63.5,238.6 31.4,242.3 7.1,243.7 4.9,245.5 4.3,247.9 5.0,257.3 2.8,260.5 0.6,261.9" fill="#f7ea2a" stroke="#111" stroke-width="2.1" stroke-linejoin="round"/>
<path d="M99.7,145.1 L115.7,145.1 Q121.7,145.6 121.7,149.6 Q121.7,153.7 115.7,154.2 L99.7,154.2 Q96.9,154.2 96.9,149.6 Q96.9,145.1 99.7,145.1 Z" fill="#f7ea2a" stroke="#111" stroke-width="2.1" stroke-linejoin="round"/>
<path d="M99.7,167.5 L115.7,167.5 Q121.7,168.0 121.7,172.1 Q121.7,176.1 115.7,176.6 L99.7,176.6 Q96.9,176.6 96.9,172.1 Q96.9,167.5 99.7,167.5 Z" fill="#f7ea2a" stroke="#111" stroke-width="2.1" stroke-linejoin="round"/>
</g></defs>
<rect x="20.0" y="91.0" width="1160.0" height="18.0" fill="url(#bshadow)" />
<rect x="20.0" y="0.0" width="1160.0" height="91.0" fill="#f9ee35" />
<text x="289.2" y="61.8" font-size="53" font-weight="bold" font-style="italic" fill="#3a3a3c" textLength="194.6" lengthAdjust="spacingAndGlyphs"  stroke="#3a3a3c" stroke-width="2.4" stroke-linejoin="miter">WHEEL</text>
<text x="508.7" y="61.8" font-size="53" font-weight="bold" font-style="italic" fill="#3a3a3c" textLength="213.1" lengthAdjust="spacingAndGlyphs"  stroke="#3a3a3c" stroke-width="2.4" stroke-linejoin="miter">OFFSET</text>
<text x="748.2" y="61.8" font-size="53" font-weight="bold" font-style="italic" fill="#3a3a3c" textLength="167.1" lengthAdjust="spacingAndGlyphs"  stroke="#3a3a3c" stroke-width="2.4" stroke-linejoin="miter">GUIDE</text>
<text x="131.0" y="168.0" font-size="24.5" font-style="italic" fill="#1d1d1f" textLength="84.0" lengthAdjust="spacingAndGlyphs" >Legend</text>
<rect x="131.0" y="169.6" width="84.5" height="1.3" fill="#1d1d1f" />
<rect x="133.0" y="182.5" width="9.5" height="22.5" fill="#e8212b" />
<text x="156.0" y="200.0" font-size="15.5" font-style="italic" fill="#1d1d1f" textLength="253.0" lengthAdjust="spacingAndGlyphs" >Hub Face/ Wheel Mounting Surface</text>
<rect x="136.0" y="213.0" width="3.0" height="6.3" fill="#333" />
<rect x="136.0" y="224.0" width="3.0" height="6.5" fill="#333" />
<text x="159.0" y="226.0" font-size="15.5" font-style="italic" fill="#1d1d1f" textLength="95.0" lengthAdjust="spacingAndGlyphs" >Wheel Center</text>
<g id="vehL">
<polygon points="478.3,160.0 491.7,160.0 500.5,262.0 488.0,262.0" fill="#161617" />
<rect x="463.0" y="254.0" width="140.0" height="9.0" fill="#19191a" />
<polygon points="454.2,198.0 454.2,238.5 462.0,238.5" fill="#d8232a" />
<polygon points="455.0,238.5 462.0,238.5 466.0,300.0 455.0,300.0" fill="#9a9a9c" />
<rect x="467.0" y="231.0" width="17.0" height="23.0" fill="#141415" />
<ellipse cx="475.5" cy="231.5" rx="8.6" ry="3.6" fill="#2e2e30"/>
<ellipse cx="475.5" cy="231" rx="6.3" ry="2.3" fill="#1b1b1c"/>
<rect x="484.0" y="240.0" width="6.0" height="12.0" fill="#444446" />
<path d="M455,310 L463.3,293.3 L475,278.3 L486.7,260 Q494,246 503,240 Q513,234.5 523,234.5 Q536,235 544,243 Q552,252 558.3,263.3 L566,278 L572,300 Z" fill="#1a1a1c"/>
<path d="M499,262 Q503,246 514,241 Q524,238.5 534,241 Q543,247 546,260 L548,272 L500,276 Z" fill="#2a2a2c"/>
<polygon points="476.0,283.0 490.0,262.0 497.0,262.0 486.0,300.0 470.0,305.0" fill="#2d2d30" />
<rect x="423.0" y="282.0" width="14.5" height="26.0" fill="#232324" />
<polygon points="441.5,168.0 455.3,168.0 456.5,336.0 442.5,336.0" fill="url(#pillar)" />
<ellipse cx="448.5" cy="285.5" rx="8.6" ry="3.3" fill="none" stroke="#2a1c1d" stroke-width="1.6"/>
<circle cx="438.3" cy="290.0" r="1.9" fill="#d4d4d5" stroke="#6a6a6b" stroke-width="0.5"/>
<circle cx="453.2" cy="290.0" r="1.9" fill="#d4d4d5" stroke="#6a6a6b" stroke-width="0.5"/>
<circle cx="438.5" cy="294.6" r="1.9" fill="#d4d4d5" stroke="#6a6a6b" stroke-width="0.5"/>
<circle cx="453.5" cy="294.6" r="1.9" fill="#d4d4d5" stroke="#6a6a6b" stroke-width="0.5"/>
<circle cx="438.7" cy="299.2" r="1.9" fill="#d4d4d5" stroke="#6a6a6b" stroke-width="0.5"/>
<circle cx="453.8" cy="299.2" r="1.9" fill="#d4d4d5" stroke="#6a6a6b" stroke-width="0.5"/>
<circle cx="438.9" cy="303.8" r="1.9" fill="#d4d4d5" stroke="#6a6a6b" stroke-width="0.5"/>
<circle cx="454.1" cy="303.8" r="1.9" fill="#d4d4d5" stroke="#6a6a6b" stroke-width="0.5"/>
<rect x="484.0" y="121.3" width="119.0" height="15.2" fill="url(#roof)" />
<rect x="484.0" y="121.3" width="119.0" height="1.2" fill="#ffffff" />
<rect x="484.0" y="128.3" width="119.0" height="1.0" fill="#a2a2a2" />
<rect x="460.5" y="119.0" width="23.5" height="16.0" fill="#1a1a1b" />
<polygon points="449.5,139.0 455.0,131.0 466.0,122.5 473.0,121.0 476.0,125.0 470.0,133.0 462.0,137.0 456.0,142.0" fill="#9b9b9d" />
<polygon points="452.0,137.0 457.0,130.5 466.5,124.0 471.0,123.0" fill="#d9d9d9" />
<polygon points="446.0,141.0 454.0,135.5 487.0,135.5 492.0,139.5 556.0,139.5 559.0,142.0 603.0,142.0 603.0,152.5 470.0,152.5 452.0,150.0" fill="url(#header)" />
<polygon points="556.0,140.5 603.0,140.5 603.0,148.5 560.0,148.5" fill="#9b9b9d" />
<rect x="562.0" y="143.2" width="41.0" height="1.0" fill="#b9b9bb" />
<polygon points="487.5,136.0 523.5,136.0 520.5,142.8 491.0,142.8" fill="#222223" />
<polygon points="491.5,139.5 521.5,139.5 520.0,142.0 492.5,142.0" fill="#8d8d8f" />
<polygon points="524.0,136.0 556.0,139.5 527.0,143.5" fill="#a6a6a8" />
<rect x="478.0" y="152.3" width="125.0" height="1.8" fill="#7f1d20" />
<polygon points="453.0,153.8 603.0,153.8 603.0,161.5 460.0,161.5" fill="#1c1c1d" />
<polygon points="441.5,170.0 441.6,150.0 444.5,142.0 450.0,137.5 456.0,141.0 454.0,150.5 472.0,153.0 478.0,160.0 460.0,161.0 455.3,170.0" fill="#59595b" />
<polygon points="454.0,143.0 476.0,144.0 478.0,152.0 470.0,156.0 455.0,152.0" fill="#2a2a2b" />
<polygon points="387.7,346.0 394.4,326.0 421.0,313.0 427.0,311.0 603.0,311.0 603.0,533.0 570.0,533.0 556.0,522.0 470.0,524.0 447.0,531.0 430.0,528.0 401.0,515.0 401.0,462.0 406.3,456.7" fill="#b5b5b6" />
<polygon points="404.0,316.5 421.0,311.0 424.0,326.0 406.0,331.0" fill="#29292a" />
<polygon points="394.4,327.0 405.0,319.0 414.0,322.0 417.0,336.0 408.8,342.4 387.7,345.3" fill="#dadada" />
<polygon points="430.0,360.0 530.0,380.0 548.0,405.0 548.0,450.0 564.0,492.0 401.0,492.0 401.0,470.0" fill="#a7a7a8" />
<polygon points="387.7,346.0 408.8,342.4 424.0,371.2 439.4,451.7 443.3,470.8 444.0,492.0 401.0,492.0 401.0,462.0 406.3,456.7" fill="url(#fender)" />
<polygon points="401.0,462.0 406.3,456.7 440.0,458.0 443.3,470.8 444.0,492.0 401.0,492.0" fill="#9d9d9e" />
<polygon points="424.0,371.2 431.0,374.0 446.0,452.0 439.4,451.7" fill="#8f8f90" />
<polygon points="424.0,371.0 437.5,366.0 527.6,391.0 529.5,394.2 483.5,384.6 456.7,376.5 447.0,381.0 439.4,392.3 431.0,376.0" fill="#8d8d8e" />
<polygon points="439.4,392.3 447.0,381.0 456.7,376.5 483.5,382.7 488.5,395.0 470.0,403.0 462.0,413.0 459.5,451.7 452.8,492.0 443.3,492.0 439.4,451.7" fill="#dcdcdc" />
<polygon points="447.0,398.0 455.0,387.0 470.0,385.0 481.0,390.0 466.0,399.0 457.0,412.0 455.0,451.0 450.0,480.0 446.0,451.0" fill="#c4c4c5" />
<polygon points="464.0,386.5 478.0,383.5 484.0,390.0 472.0,399.0 463.0,410.0 461.0,400.0" fill="#6f6f70" />
<polygon points="463.0,410.0 472.0,399.0 484.0,390.0 490.0,396.0 474.0,408.0 466.0,420.0 463.0,440.0" fill="#9a9a9b" />
<polygon points="483.5,384.6 529.5,394.2 548.7,405.7 548.7,444.0 521.8,451.7 518.0,432.5 495.0,401.8" fill="#b3b3b4" />
<polygon points="488.5,395.0 529.5,403.0 545.0,411.0 521.5,413.0 498.0,403.0" fill="#9c9c9d" />
<rect x="526.5" y="433.0" width="7.0" height="7.0" fill="#bdbdbe" stroke="#9a9a9b" stroke-width="0.6"/>
<polygon points="520.0,449.8 552.5,449.8 566.0,520.0 552.0,522.0 523.8,460.0" fill="#c6c6c7" />
<polygon points="406.8,344.3 437.5,355.8 529.5,377.0 527.6,392.3 437.5,367.3 409.0,358.0" fill="#cbcbcc" />
<polygon points="437.5,361.0 529.0,384.5 527.6,392.3 437.5,367.3" fill="#aeaeaf" />
<polygon points="436.5,324.2 546.8,338.6 539.0,350.0 529.5,377.0 456.7,357.8 443.3,350.2 430.8,344.3" fill="#ababac" />
<polygon points="436.5,324.2 546.8,338.6 545.0,342.0 437.5,328.0" fill="#cfcfd0" />
<polygon points="454.8,333.8 525.7,344.3 518.0,359.7 504.6,367.3 460.5,353.9 447.0,350.0" fill="#8e8e90" />
<polygon points="447.0,350.0 454.8,333.8 461.0,335.0 454.0,352.0" fill="#3e3e40" />
<circle cx="502.7" cy="352" r="6.6" fill="#8d8d8f"/><circle cx="502.7" cy="352" r="4.6" fill="#3f3f41"/>
<circle cx="470" cy="343" r="3.6" fill="#9c9c9e"/><circle cx="480" cy="346" r="3.6" fill="#9c9c9e"/><circle cx="474" cy="352" r="3.4" fill="#999a9b"/><circle cx="485" cy="355" r="3.4" fill="#999a9b"/>
<polygon points="437.2,324.6 452.6,327.0 444.5,349.5 431.0,343.4" fill="#c4c4c5" />
<circle cx="438.5" cy="333" r="1.3" fill="#555"/>
<polygon points="427.0,311.0 452.0,305.0 503.0,298.0 509.0,280.0 572.0,277.0 581.0,285.0 603.0,284.0 603.0,337.0 539.0,337.0 436.0,324.0 422.0,339.0" fill="#e3282b" />
<polygon points="509.0,280.0 572.0,277.0 581.0,285.0 603.0,284.0 603.0,292.0 560.0,293.0 505.0,294.0" fill="#ec4b47" />
<polygon points="514.0,283.0 566.0,281.0 572.0,288.0 512.0,290.0" fill="#d8262a" />
<polygon points="505.0,294.0 560.0,293.0 603.0,292.0 603.0,312.0 530.0,315.0 522.0,318.0" fill="url(#hoodtop)" />
<polygon points="522.0,318.0 530.0,315.0 603.0,312.0 603.0,337.0 539.0,337.0" fill="#d92228" />
<polygon points="503.0,298.0 505.0,294.0 522.0,318.0 539.0,337.0 532.0,336.0 515.0,318.0" fill="#f07a73" />
<polygon points="427.0,311.0 452.0,305.0 503.0,298.0 515.0,318.0 470.0,318.0 436.0,324.0" fill="#e9373a" />
<polygon points="458.0,306.0 496.0,301.0 500.0,309.0 468.0,313.0" fill="#d42429" />
<polygon points="436.0,324.0 470.0,318.0 515.0,318.0 532.0,336.0" fill="#dd262b" />
<polygon points="536.7,308.7 603.0,307.5 603.0,314.5 540.0,315.2" fill="#cf1f27" />
<polygon points="535.0,316.5 603.0,315.5 603.0,320.5 537.5,321.5" fill="#e9443f" />
<ellipse cx="486" cy="308" rx="14" ry="2.3" transform="rotate(-7 486 308)" fill="#f7b3ab" opacity="0.8"/>
<ellipse cx="599" cy="326.5" rx="5" ry="1.2" fill="#8a8a8c"/>
<rect x="525.2" y="294.0" width="1.6" height="6.0" fill="#9fa3a6" />
<ellipse cx="526" cy="300.5" rx="4" ry="1.4" fill="#9fa3a6"/>
<polygon points="546.0,340.5 603.0,340.5 603.0,426.0 560.0,426.0 536.8,403.5" fill="#b6b6b7" />
<polygon points="552.5,350.0 603.0,350.0 603.0,422.8 563.0,422.8 541.0,400.0" fill="#2e2b2b" />
<polygon points="555.0,352.5 603.0,352.5 603.0,420.0 564.5,420.0 544.0,399.5" fill="url(#mesh)" />
<polygon points="522.8,407.0 549.0,412.0 549.0,449.0 522.8,449.0" fill="#a3a3a4" />
<polygon points="560.0,426.0 603.0,426.0 603.0,446.0 553.0,446.0 549.0,440.0" fill="#a9a9aa" />
<polygon points="566.5,428.5 603.0,428.5 603.0,442.0 559.5,442.0" fill="#3a3636" />
<polygon points="568.0,430.0 603.0,430.0 603.0,440.5 562.5,440.5" fill="url(#mesh)" />
<polygon points="549.0,412.0 555.0,418.0 560.0,426.0 549.0,440.0" fill="#4a4848" />
<rect x="589.0" y="440.0" width="14.0" height="1.6" fill="#d5d5d6" />
<polygon points="553.0,446.0 603.0,446.0 603.0,456.0 556.0,456.0" fill="#8c8c8d" />
<polygon points="577.0,452.5 603.0,452.5 603.0,461.0 573.5,461.0" fill="#6d6b6b" />
<polygon points="521.0,456.0 554.0,456.0 603.0,456.0 603.0,533.0 570.0,533.0 567.0,519.0 554.0,519.0" fill="url(#skid)" />
<polygon points="521.0,456.0 554.0,456.0 560.0,500.0 568.0,519.0 554.0,519.0" fill="#bebebf" />
<polygon points="554.0,456.0 603.0,456.0 603.0,462.0 575.0,462.0 573.0,466.0 560.0,466.0" fill="#a4a4a5" />
<polygon points="564.0,468.0 582.0,468.0 579.5,485.0 566.0,485.0" fill="#8a8a8b" />
<polygon points="565.0,469.0 581.0,469.0 579.0,482.0 566.8,482.0" fill="#bdbdbe" />
<polygon points="590.0,466.5 603.0,466.5 603.0,487.0 586.5,487.0" fill="#8a8a8b" />
<polygon points="591.0,467.5 603.0,467.5 603.0,484.0 588.0,484.0" fill="#bfbfc0" />
<rect x="560.0" y="489.0" width="43.0" height="6.0" fill="#aaaaab" />
<rect x="568.0" y="498.0" width="9.0" height="6.5" fill="#8b8b8c" />
<ellipse cx="575" cy="512" rx="1.2" ry="4" fill="#555556"/>
<ellipse cx="584.5" cy="517" rx="2.6" ry="4" fill="#555556"/>
<ellipse cx="595" cy="516" rx="2.2" ry="2.2" fill="#555556"/>
<ellipse cx="601.5" cy="521" rx="1.3" ry="1.3" fill="#555556"/>
<polygon points="456.0,503.0 537.0,494.0 550.0,521.0 492.0,527.0 456.0,527.0" fill="#b1b1b2" />
<polygon points="489.0,498.0 540.0,492.0 550.0,521.0 492.0,525.0" fill="#b9b9ba" />
<polygon points="401.0,490.0 444.0,490.0 456.0,527.0 430.0,531.0 401.0,516.0" fill="#b4b4b5" />
<polygon points="441.7,500.0 452.5,500.0 453.3,528.0 447.5,532.0 441.7,528.0" fill="#e3e3e3" />
<polygon points="454.0,526.0 474.0,524.5 474.0,533.3 456.0,533.8" fill="#dd2a30" />
<polygon points="474.0,526.0 488.0,527.0 490.0,531.0 474.0,531.5" fill="#fdfdfd" />
<polygon points="440.0,530.0 490.0,530.0 513.0,526.0 558.0,524.0 568.0,526.7 569.0,534.0 603.0,535.0 603.0,552.5 571.0,552.5 565.0,546.0 520.0,545.0 486.7,544.0 430.0,537.0" fill="#474748" />
<polygon points="559.5,531.0 603.0,531.0 603.0,535.0 569.0,535.0" fill="#3a3a3b" />
<polygon points="404.0,516.5 523.0,470.5 526.0,475.0 404.0,521.5" fill="#19191a" />
<polygon points="404.0,518.8 524.5,472.8 525.0,473.8 404.0,520.0" fill="#7a2a2c" />
<polygon points="404.0,521.5 527.5,477.5 531.0,488.0 404.0,528.5" fill="#4a4a4b" />
<polygon points="404.0,523.0 528.5,480.0 529.0,481.5 404.0,524.8" fill="#8a8a8b" />
<polygon points="406.0,558.0 536.0,513.5 538.0,517.0 408.0,563.5" fill="#8f8f90" />
<polygon points="404.0,577.5 553.0,521.5 560.0,526.0 404.0,587.5" fill="#3b3b3c" />
<polygon points="404.0,580.5 556.0,524.5 557.0,525.8 404.0,582.5" fill="#7c7c7d" />
<polygon points="404.0,577.5 553.0,521.5 554.0,522.5 404.0,578.8" fill="#222223" />
<polygon points="379.0,536.0 405.0,533.0 409.0,545.0 409.0,578.0 404.0,590.0 380.0,588.0" fill="#8e8e8f" />
<polygon points="383.0,540.0 403.0,538.0 403.0,584.0 384.0,585.0" fill="#a2a2a3" />
<rect x="372.0" y="552.0" width="9.0" height="22.0" fill="#9a9a9b" />
<polygon points="405.0,545.0 430.0,520.0 434.0,526.0 409.0,556.0" fill="#bcbcbd" />
<polygon points="414.0,548.0 428.0,548.0 428.0,572.0 414.0,572.0" fill="#7b7b7c" />
<circle cx="400" cy="591" r="3.2" fill="#8a8a8b"/><circle cx="409" cy="516" r="3.5" fill="#b0b0b1"/>
<polygon points="382.0,553.0 420.0,549.0 420.0,553.0 384.0,558.0" fill="#d8343a" />
<polygon points="446.5,490.0 503.0,420.5 512.5,428.0 456.0,498.5" fill="#5a5a5b" />
<polygon points="449.5,491.0 505.0,423.0 508.5,426.0 453.0,494.5" fill="#e2e2e2" />
<polygon points="453.0,494.5 508.5,426.0 510.5,427.5 455.0,496.5" fill="#9a9a9b" />
<polygon points="488.0,439.0 503.0,420.5 512.5,428.0 497.0,447.0" fill="#2f2f30" />
<polygon points="443.0,492.0 452.0,482.5 462.0,491.0 453.0,501.0" fill="#b9b9ba" />
<polygon points="455.0,478.0 462.0,470.0 470.0,477.0 463.0,485.0" fill="#d9d9da" />
<circle cx="447.5" cy="494.5" r="5.3" fill="#a0a0a1"/><circle cx="447.5" cy="494.5" r="2.6" fill="#505051"/>
<path d="M491.9,414.8 Q506.5,423.1 514.8,437.7" fill="none" stroke="#2a2a2b" stroke-width="3.4" stroke-linecap="round"/>
<path d="M493.1,414.2 Q507.7,422.2 515.4,436.5" fill="none" stroke="#f0f0f0" stroke-width="1.1" stroke-linecap="round"/>
<path d="M491.3,416.1 Q504.9,424.7 510.8,435.7" fill="none" stroke="#a3262b" stroke-width="0.7" stroke-linecap="round"/>
<path d="M483.6,426.7 Q497.8,435.4 505.6,450.5" fill="none" stroke="#2a2a2b" stroke-width="3.4" stroke-linecap="round"/>
<path d="M484.8,426.1 Q499.0,434.5 506.2,449.3" fill="none" stroke="#f0f0f0" stroke-width="1.1" stroke-linecap="round"/>
<path d="M483.0,428.0 Q496.2,437.0 501.6,448.5" fill="none" stroke="#a3262b" stroke-width="0.7" stroke-linecap="round"/>
<path d="M473.5,437.7 Q488.1,446.8 496.4,462.4" fill="none" stroke="#2a2a2b" stroke-width="3.4" stroke-linecap="round"/>
<path d="M474.7,437.1 Q489.3,445.9 497.0,461.2" fill="none" stroke="#f0f0f0" stroke-width="1.1" stroke-linecap="round"/>
<path d="M472.9,439.0 Q486.5,448.4 492.4,460.4" fill="none" stroke="#a3262b" stroke-width="0.7" stroke-linecap="round"/>
<path d="M465.3,449.1 Q479.5,458.1 487.3,473.4" fill="none" stroke="#2a2a2b" stroke-width="3.4" stroke-linecap="round"/>
<path d="M466.5,448.5 Q480.7,457.2 487.9,472.2" fill="none" stroke="#f0f0f0" stroke-width="1.1" stroke-linecap="round"/>
<path d="M464.7,450.4 Q477.9,459.7 483.3,471.4" fill="none" stroke="#a3262b" stroke-width="0.7" stroke-linecap="round"/>
<path d="M457.0,460.6 Q471.2,467.9 479.0,481.7" fill="none" stroke="#2a2a2b" stroke-width="3.4" stroke-linecap="round"/>
<path d="M458.2,460.0 Q472.4,467.1 479.6,480.5" fill="none" stroke="#f0f0f0" stroke-width="1.1" stroke-linecap="round"/>
<path d="M456.4,461.9 Q469.6,469.6 475.0,479.7" fill="none" stroke="#a3262b" stroke-width="0.7" stroke-linecap="round"/>
</g>
<use href="#vehL" transform="translate(1204.0,0) scale(-1,1)"/>
<polygon points="606.0,293.0 672.0,292.5 663.0,305.0 597.0,306.5" fill="#f28f85" stroke="opacity="0.45"" stroke-width="0" />
<path d="M648,274 C653,258 675,245.5 697,247.5 C723,250 746,270 749.5,302" fill="none" stroke="#2b2725" stroke-width="9" stroke-linecap="round"/>
<path d="M650,271 C656,258 677,248 697,249.5 C712,251 726,258 735,268" fill="none" stroke="#4c4643" stroke-width="2.2"/>
<polygon points="587.0,291.0 592.0,284.5 612.0,284.5 617.0,291.0" fill="#f0605a" />
<polygon points="766.8,324.6 751.4,327.0 759.5,349.5 773.0,343.4" fill="#dcdcdd" />
<circle cx="765.5" cy="333" r="1.4" fill="#444"/>
<polygon points="749.2,333.8 678.3,344.3 686.0,359.7 699.4,367.3 743.5,353.9 757.0,350.0" fill="#8b8b8d" />
<polygon points="744.5,335.2 680.5,345.0 687.5,358.8 699.7,365.6 742.0,353.2 751.5,350.5" fill="#dededf" />
<polygon points="738.0,340.0 685.0,347.5 691.0,357.5 700.5,362.5 736.0,351.5" fill="#c6c6c8" />
<polygon points="757.0,350.0 749.2,333.8 743.5,335.2 750.5,351.8" fill="#4a4a4c" />
<circle cx="701.3" cy="352" r="6.6" fill="#f4f4f4" stroke="#4a4a4a" stroke-width="1.3"/><circle cx="701.3" cy="352" r="3.4" fill="#8e8e90" stroke="#3c3c3c" stroke-width="0.9"/>
<circle cx="718.0" cy="345.5" r="3.7" fill="#f6f6f6" stroke="#b0b0b0" stroke-width="0.5"/>
<circle cx="731.5" cy="342.5" r="3.7" fill="#f2f2f2" stroke="#b0b0b0" stroke-width="0.5"/>
<circle cx="716.5" cy="356.5" r="3.7" fill="#8d8d8f" stroke="#b0b0b0" stroke-width="0.5"/>
<circle cx="728.5" cy="353" r="3.7" fill="#8d8d8f" stroke="#b0b0b0" stroke-width="0.5"/>
<circle cx="740.0" cy="346" r="3.7" fill="#a5a5a7" stroke="#b0b0b0" stroke-width="0.5"/>
<use href="#wt_p0" transform="translate(431.6,398.4) scale(-1.02,1.026)"/>
<line x1="366.6" y1="409.0" x2="366.6" y2="681.0" stroke="#454545" stroke-width="3.0" stroke-dasharray="16 5" stroke-dashoffset="0"/>
<rect x="826.6" y="520.0" width="5.4" height="76.0" fill="#8f9597" rx="2.5"/>
<use href="#wt_p30" transform="translate(733.4,395.8) scale(1.015,1.0095)"/>
<circle cx="830" cy="560" r="61" fill="#808080" opacity="0.27"/>
<line x1="802.3" y1="409.0" x2="802.3" y2="681.0" stroke="#454545" stroke-width="3.0" stroke-dasharray="16 5" stroke-dashoffset="0"/>
<polyline points="875,517.5 1079,517.5 1079,294 1028.5,294" fill="none" stroke="#b4b4b4" stroke-width="1.1"/>
<text x="207.0" y="553.0" font-size="16.2" font-style="italic" fill="#1d1d1f" textLength="89.0" lengthAdjust="spacingAndGlyphs" >Example of</text>
<text x="230.0" y="572.5" font-size="16.2" font-style="italic" fill="#1d1d1f" textLength="43.0" lengthAdjust="spacingAndGlyphs" >0mm</text>
<text x="900.0" y="553.0" font-size="16.2" font-style="italic" fill="#1d1d1f" textLength="89.0" lengthAdjust="spacingAndGlyphs" >Example of</text>
<text x="912.0" y="572.5" font-size="16.2" font-style="italic" fill="#1d1d1f" textLength="64.0" lengthAdjust="spacingAndGlyphs" >+30mm</text>
<use href="#wl_p30" transform="translate(908.2,97.8) scale(0.958,0.957)"/>
<line x1="970.3" y1="138.3" x2="970.3" y2="358.5" stroke="#454545" stroke-width="3.0" stroke-dasharray="12.5 5" stroke-dashoffset="5"/>
<text x="920" y="226.6" font-size="14.2" textLength="43" fill="#fff" font-weight="bold" font-style="italic" lengthAdjust="spacingAndGlyphs" stroke="#8a8a8a" stroke-width="2" paint-order="stroke" stroke-opacity="0.55">BACK</text>
<text x="920" y="241.2" font-size="14.2" textLength="71.7" fill="#fff" font-weight="bold" font-style="italic" lengthAdjust="spacingAndGlyphs" stroke="#8a8a8a" stroke-width="2" paint-order="stroke" stroke-opacity="0.55">SPACING</text>
<text x="920" y="226.6" font-size="14.2" textLength="43" fill="#fff" font-weight="bold" font-style="italic" lengthAdjust="spacingAndGlyphs" stroke="#fff" stroke-width="0.7">BACK</text>
<text x="920" y="241.2" font-size="14.2" textLength="71.7" fill="#fff" font-weight="bold" font-style="italic" lengthAdjust="spacingAndGlyphs" stroke="#fff" stroke-width="0.7">SPACING</text>
<line x1="924" y1="249.5" x2="988" y2="249.5" stroke="#fff" stroke-width="1.4"/>
<polygon points="920,249.5 929,246 929,253" fill="#fff"/><polygon points="992,249.5 983,246 983,253" fill="#fff"/>
<path d="M972.8,261.7 V270.8 M994.7,261.7 V270.8 M972.8,266.2 H994.7" stroke="#e8212b" stroke-width="1.4" fill="none"/>
<line x1="983.7" y1="268" x2="983.7" y2="281" stroke="#e8212b" stroke-width="1.1" stroke-dasharray="1.3 1.3"/>
<text x="919.2" y="299.5" font-size="19.8" textLength="85" lengthAdjust="spacingAndGlyphs" font-weight="bold" font-style="italic" fill="#e0202a" stroke="#f4f4f4" stroke-width="2.2" paint-order="stroke" stroke-linejoin="round">OFFSET</text>
<g transform="translate(1040.8,255.8) rotate(-90)"><text x="0" y="0" font-size="13" font-style="italic" fill="#222" textLength="102.5" lengthAdjust="spacingAndGlyphs">FRONT OF WHEEL</text></g>
<text x="200.3" y="399.8" font-size="19" font-weight="bold" font-style="italic" fill="#333" textLength="157.3" lengthAdjust="spacingAndGlyphs"  stroke="#333" stroke-width="0.7" stroke-linejoin="miter">LOWER OFFSET</text>
<text x="131.0" y="423.0" font-size="17.5" font-style="italic" fill="#222" textLength="227.0" lengthAdjust="spacingAndGlyphs" >WHEEL MOVES OUTWARD</text>
<rect x="121.0" y="430.2" width="236.5" height="1.7" fill="#3a3a3a" />
<polygon points="109.5,431.0 122.5,426.0 122.5,436.0" fill="#3a3a3a" />
<text x="832.9" y="399.8" font-size="19" font-weight="bold" font-style="italic" fill="#333" textLength="162.3" lengthAdjust="spacingAndGlyphs"  stroke="#333" stroke-width="0.7" stroke-linejoin="miter">HIGHER OFFSET</text>
<text x="833.0" y="423.0" font-size="17.5" font-style="italic" fill="#222" textLength="209.5" lengthAdjust="spacingAndGlyphs" >WHEEL MOVES INWARD</text>
<rect x="826.0" y="430.2" width="216.5" height="1.7" fill="#3a3a3a" />
<polygon points="814.0,431.0 827.0,426.0 827.0,436.0" fill="#3a3a3a" />
<polygon points="20.0,695.0 120.0,697.2 120.0,726.5 20.0,726.5" fill="#d6d6d6" />
<polygon points="249.5,699.9 523.5,705.9 523.5,726.5 249.5,726.5" fill="#d6d6d6" />
<polygon points="684.5,709.3 949.5,715.0 949.5,726.5 684.5,726.5" fill="#d6d6d6" />
<polygon points="1079.5,717.8 1180.0,720.0 1180.0,726.5 1079.5,726.5" fill="#d6d6d6" />
<text x="153.3" y="718.8" font-size="16.5" font-weight="bold" font-style="italic" fill="#333" textLength="64.3" lengthAdjust="spacingAndGlyphs"  stroke="#333" stroke-width="0.7" stroke-linejoin="miter">WIDER</text>
<text x="538.1" y="728.1" font-size="32" font-weight="bold" font-style="italic" fill="#333" textLength="136.2" lengthAdjust="spacingAndGlyphs"  stroke="#333" stroke-width="1.3" stroke-linejoin="miter">STANCE</text>
<text x="957.9" y="728.8" font-size="17" font-weight="bold" font-style="italic" fill="#333" textLength="113.3" lengthAdjust="spacingAndGlyphs"  stroke="#333" stroke-width="0.7" stroke-linejoin="miter">NARROWER</text>
<rect x="20.0" y="746.0" width="1160.0" height="442.5" fill="url(#panel)" />
<rect x="20.0" y="746.0" width="87.0" height="442.5" fill="#d6d6d6" />
<rect x="259.0" y="746.0" width="56.0" height="442.5" fill="#d6d6d6" />
<rect x="467.5" y="746.0" width="58.5" height="442.5" fill="#d6d6d6" />
<rect x="679.0" y="746.0" width="56.5" height="442.5" fill="#d6d6d6" />
<rect x="887.5" y="746.0" width="49.5" height="442.5" fill="#d6d6d6" />
<rect x="1089.0" y="746.0" width="91.0" height="442.5" fill="#d6d6d6" />
<use href="#w_m47" transform="translate(121.4,745)"/>
<line x1="184.2" y1="787.0" x2="184.2" y2="1019.5" stroke="#454545" stroke-width="3.0" stroke-dasharray="14.5 5" stroke-dashoffset="7.5"/>
<polyline points="132.4,794 132.4,774.6 235.4,774.6 235.4,794" fill="none" stroke="#2a2a2a" stroke-width="1.2"/>
<text x="149.9" y="770.0" font-size="14.8" font-style="italic" fill="#1d1d1f" textLength="71.0" lengthAdjust="spacingAndGlyphs" >7” Wheel</text>
<g transform="translate(257.9,925) rotate(-90)"><text x="0" y="0" font-size="11.5" font-style="italic" fill="#222" textLength="39" lengthAdjust="spacingAndGlyphs">FRONT</text></g>
<use href="#w_p0" transform="translate(330.3,745)"/>
<line x1="393.1" y1="787.0" x2="393.1" y2="1019.5" stroke="#454545" stroke-width="3.0" stroke-dasharray="14.5 5" stroke-dashoffset="7.5"/>
<polyline points="341.3,794 341.3,774.6 444.3,774.6 444.3,794" fill="none" stroke="#2a2a2a" stroke-width="1.2"/>
<text x="358.8" y="770.0" font-size="14.8" font-style="italic" fill="#1d1d1f" textLength="71.0" lengthAdjust="spacingAndGlyphs" >7” Wheel</text>
<g transform="translate(466.8,925) rotate(-90)"><text x="0" y="0" font-size="11.5" font-style="italic" fill="#222" textLength="39" lengthAdjust="spacingAndGlyphs">FRONT</text></g>
<use href="#w_p5" transform="translate(541.4,745)"/>
<line x1="604.2" y1="787.0" x2="604.2" y2="1019.5" stroke="#454545" stroke-width="3.0" stroke-dasharray="14.5 5" stroke-dashoffset="7.5"/>
<polyline points="552.4,794 552.4,774.6 655.4,774.6 655.4,794" fill="none" stroke="#2a2a2a" stroke-width="1.2"/>
<text x="569.9" y="770.0" font-size="14.8" font-style="italic" fill="#1d1d1f" textLength="71.0" lengthAdjust="spacingAndGlyphs" >7” Wheel</text>
<g transform="translate(677.9,925) rotate(-90)"><text x="0" y="0" font-size="11.5" font-style="italic" fill="#222" textLength="39" lengthAdjust="spacingAndGlyphs">FRONT</text></g>
<use href="#w_p10" transform="translate(749.9,745)"/>
<line x1="812.7" y1="787.0" x2="812.7" y2="1019.5" stroke="#454545" stroke-width="3.0" stroke-dasharray="14.5 5" stroke-dashoffset="7.5"/>
<polyline points="760.9,794 760.9,774.6 863.9,774.6 863.9,794" fill="none" stroke="#2a2a2a" stroke-width="1.2"/>
<text x="778.4" y="770.0" font-size="14.8" font-style="italic" fill="#1d1d1f" textLength="71.0" lengthAdjust="spacingAndGlyphs" >7” Wheel</text>
<g transform="translate(886.4,925) rotate(-90)"><text x="0" y="0" font-size="11.5" font-style="italic" fill="#222" textLength="39" lengthAdjust="spacingAndGlyphs">FRONT</text></g>
<use href="#w_p30" transform="translate(951.2,745)"/>
<line x1="1014.0" y1="787.0" x2="1014.0" y2="1019.5" stroke="#454545" stroke-width="3.0" stroke-dasharray="14.5 5" stroke-dashoffset="7.5"/>
<polyline points="962.2,794 962.2,774.6 1065.2,774.6 1065.2,794" fill="none" stroke="#2a2a2a" stroke-width="1.2"/>
<text x="979.7" y="770.0" font-size="14.8" font-style="italic" fill="#1d1d1f" textLength="71.0" lengthAdjust="spacingAndGlyphs" >7” Wheel</text>
<g transform="translate(1087.7,925) rotate(-90)"><text x="0" y="0" font-size="11.5" font-style="italic" fill="#222" textLength="39" lengthAdjust="spacingAndGlyphs">FRONT</text></g>
<text x="131.0" y="1051.3" font-size="17.6" font-weight="bold" font-style="italic" fill="#111" textLength="102.0" lengthAdjust="spacingAndGlyphs"  stroke="#111" stroke-width="0.6" stroke-linejoin="miter">EXAMPLES</text>
<text x="120.7" y="1097.6" font-size="18.4" font-style="italic" fill="#1d1d1f" textLength="121.6" lengthAdjust="spacingAndGlyphs" >-47mm Offset</text>
<text x="172.3" y="1120.0" font-size="18.4" font-style="italic" fill="#1d1d1f" textLength="18.7" lengthAdjust="spacingAndGlyphs" >or</text>
<text x="156.7" y="1143.0" font-size="18.4" font-style="italic" fill="#1d1d1f" textLength="50.0" lengthAdjust="spacingAndGlyphs" >(2+5)</text>
<text x="340.3" y="1051.3" font-size="17.6" font-weight="bold" font-style="italic" fill="#111" textLength="102.4" lengthAdjust="spacingAndGlyphs"  stroke="#111" stroke-width="0.6" stroke-linejoin="miter">EXAMPLES</text>
<text x="339.0" y="1097.6" font-size="18.4" font-style="italic" fill="#1d1d1f" textLength="104.0" lengthAdjust="spacingAndGlyphs" >0mm Offset</text>
<text x="382.5" y="1120.0" font-size="18.4" font-style="italic" fill="#1d1d1f" textLength="17.5" lengthAdjust="spacingAndGlyphs" >or</text>
<text x="348.5" y="1143.0" font-size="18.4" font-style="italic" fill="#1d1d1f" textLength="84.5" lengthAdjust="spacingAndGlyphs" >(3.5+3.5)</text>
<text x="551.8" y="1051.3" font-size="17.6" font-weight="bold" font-style="italic" fill="#111" textLength="102.9" lengthAdjust="spacingAndGlyphs"  stroke="#111" stroke-width="0.6" stroke-linejoin="miter">EXAMPLES</text>
<text x="546.5" y="1097.6" font-size="18.4" font-style="italic" fill="#1d1d1f" textLength="114.5" lengthAdjust="spacingAndGlyphs" >+5mm Offset</text>
<text x="594.0" y="1120.0" font-size="18.4" font-style="italic" fill="#1d1d1f" textLength="18.5" lengthAdjust="spacingAndGlyphs" >or</text>
<text x="578.5" y="1143.0" font-size="18.4" font-style="italic" fill="#1d1d1f" textLength="50.5" lengthAdjust="spacingAndGlyphs" >(4+3)</text>
<text x="760.3" y="1051.3" font-size="17.6" font-weight="bold" font-style="italic" fill="#111" textLength="101.9" lengthAdjust="spacingAndGlyphs"  stroke="#111" stroke-width="0.6" stroke-linejoin="miter">EXAMPLES</text>
<text x="748.5" y="1097.6" font-size="18.4" font-style="italic" fill="#1d1d1f" textLength="126.5" lengthAdjust="spacingAndGlyphs" >+10mm Offset</text>
<text x="802.5" y="1120.0" font-size="18.4" font-style="italic" fill="#1d1d1f" textLength="17.5" lengthAdjust="spacingAndGlyphs" >or</text>
<text x="786.5" y="1143.0" font-size="18.4" font-style="italic" fill="#1d1d1f" textLength="49.5" lengthAdjust="spacingAndGlyphs" >(5+2)</text>
<text x="961.3" y="1051.3" font-size="17.6" font-weight="bold" font-style="italic" fill="#111" textLength="102.4" lengthAdjust="spacingAndGlyphs"  stroke="#111" stroke-width="0.6" stroke-linejoin="miter">EXAMPLES</text>
<text x="949.0" y="1097.6" font-size="18.4" font-style="italic" fill="#1d1d1f" textLength="127.5" lengthAdjust="spacingAndGlyphs" >+30mm Offset</text>
<text x="1003.5" y="1120.0" font-size="18.4" font-style="italic" fill="#1d1d1f" textLength="18.0" lengthAdjust="spacingAndGlyphs" >or</text>
<text x="987.5" y="1143.0" font-size="18.4" font-style="italic" fill="#1d1d1f" textLength="50.0" lengthAdjust="spacingAndGlyphs" >(6+1)</text>
<text x="111.5" y="1213.0" font-size="16.6" font-style="italic" fill="#1d1d1f" textLength="976.0" lengthAdjust="spacingAndGlyphs" >*The information and images above are intended for informational use only. Images may not represent exact measurements.</text>
<text x="112.0" y="1256.0" font-size="16.6" font-style="italic" fill="#1d1d1f" textLength="418.0" lengthAdjust="spacingAndGlyphs" >mounting surface to the center line of the wheel. This</text>
<text x="112.0" y="1273.0" font-size="16.6" font-style="italic" fill="#1d1d1f" textLength="468.0" lengthAdjust="spacingAndGlyphs" >measurement will be stamped in the back of your wheels as</text>
<text x="112.0" y="1290.0" font-size="16.6" font-style="italic" fill="#1d1d1f" textLength="414.0" lengthAdjust="spacingAndGlyphs" >ET. ET is another term used to describe wheel offset.</text>
<text x="112.0" y="1307.0" font-size="16.6" font-style="italic" fill="#1d1d1f" textLength="455.5" lengthAdjust="spacingAndGlyphs" >Example: -47mm / 0mm / +5mm / +10mm / +30mm /</text>
<text x="112.0" y="1324.0" font-size="16.6" font-style="italic" fill="#1d1d1f" textLength="148.0" lengthAdjust="spacingAndGlyphs" >+38mm / +40mm</text>
<text x="112.0" y="1373.5" font-size="16.6" font-style="italic" fill="#1d1d1f" textLength="459.0" lengthAdjust="spacingAndGlyphs" >measurement from the wheel’s mounting surface to inside</text>
<text x="112.0" y="1390.5" font-size="16.6" font-style="italic" fill="#1d1d1f" textLength="449.0" lengthAdjust="spacingAndGlyphs" >the rim Flange on the Back Side of the wheel. In the ATV/</text>
<text x="112.0" y="1407.5" font-size="16.6" font-style="italic" fill="#1d1d1f" textLength="455.5" lengthAdjust="spacingAndGlyphs" >UTV world, Back Spacing is used as a description of offset</text>
<text x="112.0" y="1424.5" font-size="16.6" font-style="italic" fill="#1d1d1f" textLength="458.0" lengthAdjust="spacingAndGlyphs" >and generally looks like this... 2+5, 4+3, 5+2, or 6+1. This</text>
<text x="112.0" y="1441.5" font-size="16.6" font-style="italic" fill="#1d1d1f" textLength="474.0" lengthAdjust="spacingAndGlyphs" >measurement description roughly indicates how much wheel</text>
<text x="112.0" y="1458.5" font-size="16.6" font-style="italic" fill="#1d1d1f" textLength="355.5" lengthAdjust="spacingAndGlyphs" >will be on the inside and outside of the Wheel</text>
<text x="112.0" y="1475.5" font-size="16.6" font-style="italic" fill="#1d1d1f" textLength="140.5" lengthAdjust="spacingAndGlyphs" >mounting surface.</text>
<text x="111.8" y="1238.8" font-size="16.6" font-weight="bold" font-style="italic" fill="#111" textLength="118.9" lengthAdjust="spacingAndGlyphs"  stroke="#111" stroke-width="0.6" stroke-linejoin="miter">TRUE OFFSET:</text>
<text x="237.5" y="1239.0" font-size="16.6" font-style="italic" fill="#1d1d1f" textLength="277.5" lengthAdjust="spacingAndGlyphs" >The measurement from the wheel’s</text>
<text x="111.8" y="1356.3" font-size="16.6" font-weight="bold" font-style="italic" fill="#111" textLength="162.9" lengthAdjust="spacingAndGlyphs"  stroke="#111" stroke-width="0.6" stroke-linejoin="miter">INDUSTRY OFFSET:</text>
<text x="281.5" y="1356.5" font-size="16.6" font-style="italic" fill="#1d1d1f" textLength="273.5" lengthAdjust="spacingAndGlyphs" >Also known as Back Spacing, is the</text>
<text x="613.8" y="1238.8" font-size="16.6" font-weight="bold" font-style="italic" fill="#111" textLength="113.4" lengthAdjust="spacingAndGlyphs"  stroke="#111" stroke-width="0.6" stroke-linejoin="miter">DISCLAIMER:</text>
<text x="732.5" y="1239.0" font-size="16.6" font-style="italic" fill="#1d1d1f" textLength="303.5" lengthAdjust="spacingAndGlyphs" >Please note, offset and or backspacing</text>
<text x="613.5" y="1256.0" font-size="16.6" font-style="italic" fill="#1d1d1f" textLength="472.5" lengthAdjust="spacingAndGlyphs" >measurements are determined by the wheel manufacturers.</text>
<text x="613.5" y="1273.0" font-size="16.6" font-style="italic" fill="#1d1d1f" textLength="432.5" lengthAdjust="spacingAndGlyphs" >Measurements can vary slightly between wheel brands.</text>
<text x="613.5" y="1290.0" font-size="16.6" font-style="italic" fill="#1d1d1f" textLength="404.0" lengthAdjust="spacingAndGlyphs" >This chart is designed to provide you with a general</text>
<text x="613.5" y="1307.0" font-size="16.6" font-style="italic" fill="#1d1d1f" textLength="471.5" lengthAdjust="spacingAndGlyphs" >overview and description of wheel offset and or backspacing</text>
<text x="613.5" y="1324.0" font-size="16.6" font-style="italic" fill="#1d1d1f" textLength="456.5" lengthAdjust="spacingAndGlyphs" >measurements. Changing from an OE (Original Equipment)</text>
<text x="613.5" y="1341.0" font-size="16.6" font-style="italic" fill="#1d1d1f" textLength="457.5" lengthAdjust="spacingAndGlyphs" >offset can cause clearance issues. Check all clearances at</text>
<text x="613.5" y="1358.0" font-size="16.6" font-style="italic" fill="#1d1d1f" textLength="277.5" lengthAdjust="spacingAndGlyphs" >all suspension positions before use.</text>
<rect x="781.3" y="1387.4" width="309.7" height="70.2" rx="11" fill="#d9232e"/>
<rect x="789.3" y="1395.4" width="293.7" height="54.4" rx="6.5" fill="none" stroke="#fff" stroke-width="4.2"/>
<path d="M999.6,1407.6 h5.6 V1438.3 h-5.6 Z M1028.4,1407.6 h5.6 V1438.3 h-5.6 Z M999.6,1407.6 h7.1 L1034,1438.3 h-7.1 Z" fill="#fff"/>
<path d="M808.5999999999999,1438.3 V1410.3999999999999 H830.6 Q834.6,1410.3999999999999 834.6,1414.3999999999999 V1419.4499999999998 Q834.6,1423.4499999999998 830.6,1423.4499999999998 H808.5999999999999 M825.6,1423.4499999999998 Q834.6,1423.4499999999998 834.6,1428.4499999999998 V1438.3 M845.4,1438.3 L858.75,1410.3999999999999 H865.55 L878.9,1438.3 M852.9,1428.8 H871.4 M918.5,1410.3999999999999 H892.3 Q888.3,1410.3999999999999 888.3,1414.3999999999999 V1431.5 Q888.3,1435.5 892.3,1435.5 H918.5 M952.9,1410.3999999999999 H925.4 V1435.5 H952.9 M925.4,1422.9499999999998 H950.4 M1068.4,1410.3999999999999 H1040.8 V1435.5 H1068.4 M1040.8,1422.9499999999998 H1065.9 M959.8,1407.6 V1435.5 H985.9 M992.5,1407.6 V1438.3" fill="none" stroke="#fff" stroke-width="5.6" stroke-linejoin="miter" stroke-miterlimit="6"/>
<circle cx="1072.7" cy="1409.8" r="1.7" fill="none" stroke="#fff" stroke-width="0.6"/>
</svg>
</body></html>
